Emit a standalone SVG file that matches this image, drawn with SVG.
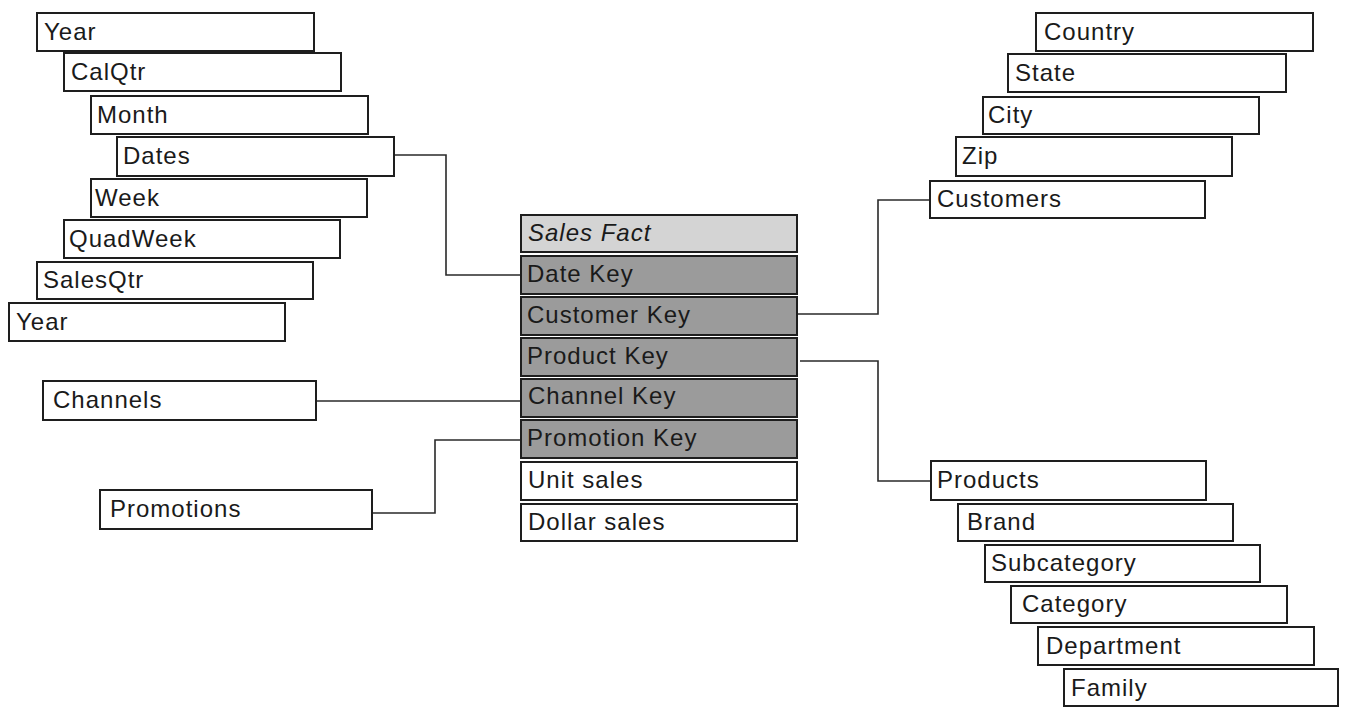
<svg xmlns="http://www.w3.org/2000/svg" width="1347" height="707" viewBox="0 0 1347 707">
<style>
.b{fill:#fff;stroke:#1e1e1e;stroke-width:2}
.h{fill:#d4d4d4;stroke:#1e1e1e;stroke-width:2}
.k{fill:#9b9b9b;stroke:#1e1e1e;stroke-width:2}
text{font-family:"Liberation Sans",Arial,sans-serif;font-size:24px;fill:#1a1a1a;letter-spacing:1px}
.c{fill:none;stroke:#2a2a2a;stroke-width:1.6}
</style>
<rect width="1347" height="707" fill="#fff"/>
<g id="connectors">
<path class="c" d="M394 155 H446 V275 H521"/>
<path class="c" d="M797 314 H878 V200 H930"/>
<path class="c" d="M800 361 H878 V481 H931"/>
<path class="c" d="M316 401 H521"/>
<path class="c" d="M372 513 H435 V440 H521"/>
</g>
<g id="year1"><rect class="b" x="37" y="13" width="277" height="38"/><text x="44" y="40">Year</text></g>
<g id="calqtr"><rect class="b" x="64" y="53" width="277" height="38"/><text x="71" y="80">CalQtr</text></g>
<g id="month"><rect class="b" x="91" y="96" width="277" height="38"/><text x="97" y="123">Month</text></g>
<g id="dates"><rect class="b" x="117" y="137" width="277" height="39"/><text x="123" y="164">Dates</text></g>
<g id="week"><rect class="b" x="91" y="179" width="276" height="38"/><text x="95" y="206">Week</text></g>
<g id="quadweek"><rect class="b" x="64" y="220" width="276" height="38"/><text x="69" y="247">QuadWeek</text></g>
<g id="salesqtr"><rect class="b" x="37" y="262" width="276" height="37"/><text x="43" y="288">SalesQtr</text></g>
<g id="year2"><rect class="b" x="9" y="303" width="276" height="38"/><text x="16" y="330">Year</text></g>
<g id="channels"><rect class="b" x="43" y="381" width="273" height="39"/><text x="53" y="408">Channels</text></g>
<g id="promotions"><rect class="b" x="100" y="490" width="272" height="39"/><text x="110" y="517">Promotions</text></g>
<g id="salesfact">
<rect class="h" x="521" y="215" width="276" height="37"/><text x="528" y="241" font-style="italic">Sales Fact</text>
<rect class="k" x="521" y="256" width="276" height="38"/><text x="527" y="282">Date Key</text>
<rect class="k" x="521" y="297" width="276" height="38"/><text x="527" y="323">Customer Key</text>
<rect class="k" x="521" y="338" width="276" height="38"/><text x="527" y="364">Product Key</text>
<rect class="k" x="521" y="379" width="276" height="38"/><text x="528" y="404">Channel Key</text>
<rect class="k" x="521" y="420" width="276" height="38"/><text x="527" y="446">Promotion Key</text>
<rect class="b" x="521" y="462" width="276" height="38"/><text x="528" y="488">Unit sales</text>
<rect class="b" x="521" y="504" width="276" height="37"/><text x="528" y="530">Dollar sales</text>
</g>
<g id="country"><rect class="b" x="1036" y="13" width="277" height="38"/><text x="1044" y="40">Country</text></g>
<g id="state"><rect class="b" x="1008" y="54" width="278" height="38"/><text x="1015" y="81">State</text></g>
<g id="city"><rect class="b" x="983" y="97" width="276" height="37"/><text x="988" y="123">City</text></g>
<g id="zip"><rect class="b" x="956" y="137" width="276" height="39"/><text x="962" y="164">Zip</text></g>
<g id="customers"><rect class="b" x="930" y="181" width="275" height="37"/><text x="937" y="207">Customers</text></g>
<g id="products"><rect class="b" x="931" y="461" width="275" height="39"/><text x="937" y="488">Products</text></g>
<g id="brand"><rect class="b" x="958" y="504" width="275" height="37"/><text x="967" y="530">Brand</text></g>
<g id="subcategory"><rect class="b" x="985" y="545" width="275" height="37"/><text x="991" y="571">Subcategory</text></g>
<g id="category"><rect class="b" x="1011" y="586" width="276" height="37"/><text x="1022" y="612">Category</text></g>
<g id="department"><rect class="b" x="1038" y="627" width="276" height="38"/><text x="1046" y="654">Department</text></g>
<g id="family"><rect class="b" x="1064" y="669" width="274" height="37"/><text x="1071" y="696">Family</text></g>
</svg>
